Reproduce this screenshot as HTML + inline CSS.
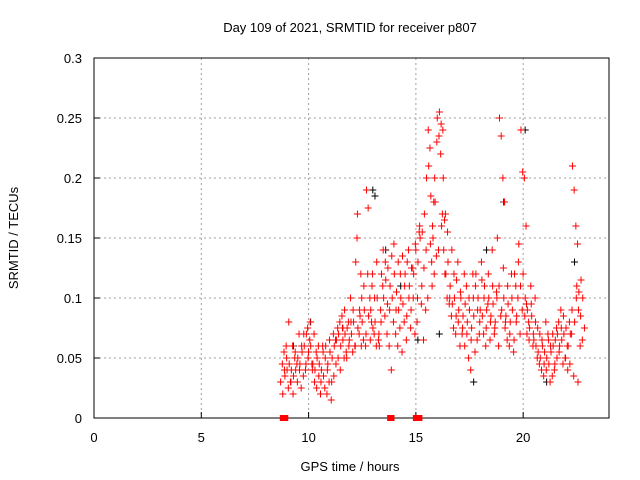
<!DOCTYPE html>
<html><head><meta charset="utf-8"><style>
html,body{margin:0;padding:0;background:#fff}
svg{display:block;font-family:"Liberation Sans",sans-serif}
</style></head><body>
<svg id="chart" width="640" height="480" viewBox="0 0 640 480" xmlns="http://www.w3.org/2000/svg">
<rect width="640" height="480" fill="#fff"/>
<g id="grid"></g>
<g id="axes"></g>
<g id="marks"></g>
<text x="350" y="32" font-size="13" text-anchor="middle">Day 109 of 2021, SRMTID for receiver p807</text>
<text x="350" y="471" font-size="13" text-anchor="middle">GPS time / hours</text>
<text transform="translate(18,238) rotate(-90)" font-size="13" text-anchor="middle">SRMTID / TECUs</text>
</svg>
<script>
const xTicks=[0,5,10,15,20];
const yTicks=[0,0.05,0.1,0.15,0.2,0.25,0.3];
const yTickLabels=["0","0.05","0.1","0.15","0.2","0.25","0.3"];
const startHour=8.8;
const stepHour=0.1;
const redVals=[
[.03,.045,.055],[.02,.04,.06],[.035,.05,.025],[.04,.08,.03],[.045,.03,.06],[.04,.02,.05],[.035,.055,.045],[.04,.03,.07],[.05,.04,.025],[.045,.06,.035],
[.055,.07,.04],[.06,.045,.075],[.07,.05,.065],[.055,.08,.045],[.06,.04,.07],[.045,.03,.055],[.04,.025,.06],[.05,.035,.02],[.045,.03,.06],[.04,.055,.025],
[.035,.05,.02],[.06,.04,.03],[.045,.065,.015],[.055,.03,.07],[.05,.035,.065],[.06,.045,.075],[.065,.05,.08],[.07,.04,.085],[.06,.075,.05],[.065,.09,.055],
[.07,.05,.08],[.075,.06,.1],[.065,.08,.055],[.07,.09,.06],[.08,.06,.15],[.13,.17,.07,.12],[.075,.09,.06],[.085,.1,.065],[.08,.11,.06],[.09,.07,.12],
[.19,.175,.1,.08],[.085,.065,.11],[.09,.12,.07],[.075,.1,.06],[.08,.13,.065],[.1,.07,.09],[.06,.08,.11],[.12,.14,.085],[.1,.13,.07],[.115,.095,.06],
[.125,.09,.04],[.11,.135,.08],[.1,.145,.07],[.12,.09,.06],[.105,.13,.075],[.09,.12,.055],[.1,.135,.08],[.095,.11,.065],[.12,.085,.14],[.13,.1,.075],
[.11,.09,.125],[.125,.1,.07],[.12,.145,.08],[.14,.1,.155],[.13,.16,.095],[.15,.11,.065],[.155,.125,.09],[.17,.14,.1],[.2,.24,.225,.13],[.21,.145,.11,.18],
[.185,.16,.12],[.15,.2,.135],[.18,.23,.14],[.25,.235,.22,.17],[.255,.245,.24,.165],[.16,.2,.12],[.14,.17,.1],[.12,.155,.095],[.13,.1,.085],[.11,.14,.075],
[.095,.12,.07],[.1,.085,.13],[.115,.08,.06],[.09,.105,.07],[.1,.075,.12],[.085,.06,.11],[.095,.07,.05],[.08,.1,.04],[.09,.065,.12],[.075,.1,.055],
[.085,.11,.065],[.12,.09,.07],[.1,.08,.13],[.09,.115,.07],[.085,.1,.06],[.11,.075,.095],[.09,.12,.065],[.1,.08,.14],[.085,.11,.07],[.095,.075,.105],
[.08,.1,.06],[.15,.11,.085],[.25,.235,.2,.18],[.09,.125,.075],[.1,.08,.065],[.085,.11,.06],[.095,.07,.12],[.08,.1,.055],[.09,.065,.11],[.12,.08,.1],
[.085,.13,.07],[.145,.11,.09],[.24,.205,.2,.16],[.12,.085,.095],[.1,.07,.08],[.09,.065,.11],[.075,.095,.06],[.085,.07,.1],[.065,.08,.05],[.06,.075,.045],
[.055,.07,.04],[.05,.065,.035],[.06,.045,.08],[.055,.04,.07],[.05,.065,.03],[.045,.06,.035],[.055,.07,.04],[.06,.045,.075],[.065,.05,.08],[.07,.055,.09],
[.06,.075,.045],[.065,.085,.05],[.07,.05,.06],[.075,.04,.08],[.06,.045,.07],[.07,.09,.035],[.21,.19,.16,.145],[.08,.1,.03],[.11,.09,.06],[.105,.085,.065],
[.115,.1,.075]
];
const blackHours=[9.2,10.0,12.9,13.0,13.5,15.0,16.0,17.6,18.2,19.0,20.0,21.0,22.3,11.5,14.2];
const blackVals=[0.06,0.08,0.19,0.185,0.14,0.065,0.07,0.03,0.14,0.18,0.24,0.03,0.13,0.075,0.11];
const gapHours=[8.8,13.8,15.0];
const gapWidths=[0.3,0.25,0.35];

const NS="http://www.w3.org/2000/svg";
const L=94,R=609,T=58,B=418;
const xS=h=>L+h*(R-L)/24;
const yS=v=>B-v*(B-T)/0.3;
function mk(tag,attrs,parent){const e=document.createElementNS(NS,tag);for(const k in attrs)e.setAttribute(k,attrs[k]);parent.appendChild(e);return e;}
const grid=document.getElementById('grid'),axes=document.getElementById('axes'),marks=document.getElementById('marks');
xTicks.forEach(t=>{
  if(t>0){const g=mk('line',{x1:xS(t),x2:xS(t),y1:T,y2:B,stroke:'#a0a0a0','stroke-dasharray':'2,3'},grid);
  
  }
  const tk=mk('line',{x1:xS(t),x2:xS(t),y1:B,y2:B-6,stroke:'#000'},axes);
  
  
  const tx=mk('text',{x:xS(t),y:B+24,'font-size':13,'text-anchor':'middle'},axes);tx.textContent=t;
  
  
});
yTicks.forEach((v,i)=>{
  if(v>0&&v<0.3){const g=mk('line',{x1:L,x2:R,y1:yS(v),y2:yS(v),stroke:'#a0a0a0','stroke-dasharray':'2,3'},grid);
  
  }
  const tk=mk('line',{x1:L,x2:L+6,y1:yS(v),y2:yS(v),stroke:'#000'},axes);
  
  
  const tx=mk('text',{x:L-12,y:yS(v)+5,'font-size':13,'text-anchor':'end'},axes);tx.textContent=yTickLabels[i];
  
  
});
const frame=mk('rect',{x:L,y:T,width:R-L,height:B-T,fill:'none',stroke:'#000'},axes);


function plus(x,y,c){const p=mk('path',{d:`M${x-3.5},${y}h7M${x},${y-3.5}v7`,stroke:c,'stroke-width':1,fill:'none'},marks);return p;}
blackHours.forEach((h,i)=>{
  const p=plus(xS(h)+2,yS(blackVals[i]),'#000');
  
  
});
redVals.forEach((row,i)=>{
  const h=startHour+i*stepHour;
  row.forEach((v,j)=>{
    const p=plus(xS(h)+(j-1.3)*1.7,yS(v),'#ff0000');
    
    
  });
});
gapHours.forEach((h,i)=>{
  const r=mk('rect',{x:xS(h)-3,y:B-3,width:xS(gapWidths[i])-xS(0)+2,height:6,fill:'#ff0000'},marks);
  
  
});
</script>
</body></html>
